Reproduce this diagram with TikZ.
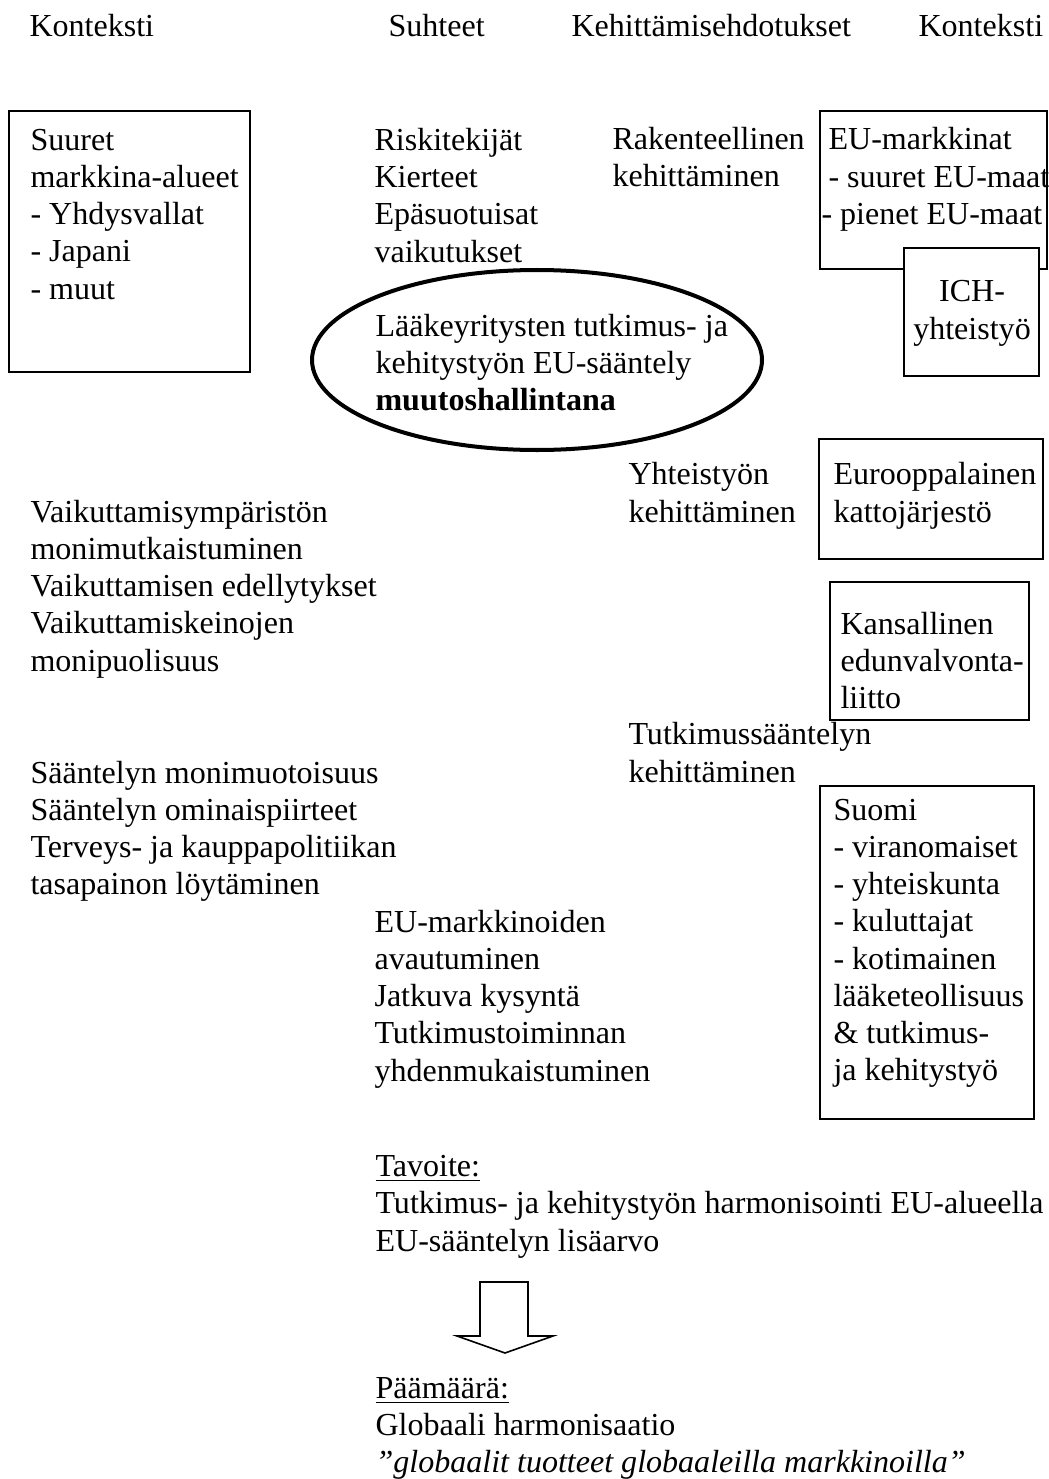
\documentclass[tikz,border=0pt]{standalone}
\usepackage{fontspec}
\setmainfont{Liberation Serif}
\usetikzlibrary{shapes.geometric}
\newdimen\px
\px=0.3745pt

\begin{document}
\begin{tikzpicture}[x=\px, y=-\px]
	\tikzset{
		txt/.style={anchor=base west, align=left, inner sep=0pt,
			font=\fontsize{12pt}{13.95pt}\selectfont},
		box/.style={draw=black, line width=0.7pt, fill=white, inner sep=0pt,
			anchor=north west},
		oval/.style={ellipse, draw=black, line width=1.5pt, inner sep=0pt}
	}
	\useasboundingbox (0,0) rectangle (1048,1479);
	
	% otsikot
	\node[txt] (h1) at (29,37) {Konteksti};
	\node[txt] (h2) at (388,37) {Suhteet};
	\node[txt] (h3) at (571,37) {Kehittämisehdotukset};
	\node[txt] (h4) at (918,37) {Konteksti};
	
	% laatikot
	\node[box, minimum width=241\px, minimum height=261\px] (bworld) at (8,110) {};
	\node[box, minimum width=227\px, minimum height=158\px] (beu) at (819,110) {};
	\node[box, minimum width=135\px, minimum height=128\px] (bich) at (903,247) {};
	\node[box, minimum width=224\px, minimum height=120\px] (beuro) at (818,438) {};
	\node[box, minimum width=199\px, minimum height=138\px] (bnat) at (829,581) {};
	\node[box, minimum width=214\px, minimum height=333\px] (bfin) at (819,785) {};
	\node[oval, minimum width=450\px, minimum height=180\px] (core) at (537,360) {};
	
	% tekstit (kiinnitys viimeisen rivin perusviivaan)
	\node[txt] (world) at (30,299) {Suuret\\markkina-alueet\\- Yhdysvallat\\- Japani\\- muut};
	\node[txt] (risk) at (374,262) {Riskitekijät\\Kierteet\\Epäsuotuisat\\vaikutukset};
	\node[txt] (struct) at (612,187) {Rakenteellinen\\kehittäminen};
	\node[txt] (eu) at (828,224.5) {EU-markkinat\\- suuret EU-maat\\\hspace*{-7\px}- pienet EU-maat};
	\node[txt, anchor=base, align=center] (ich) at (972,339) {ICH-\\yhteistyö};
	\node[txt] (coretxt) at (375,410.5) {Lääkeyritysten tutkimus- ja\\kehitystyön EU-sääntely\\\textbf{muutoshallintana}};
	\node[txt] (coop) at (628,522) {Yhteistyön\\kehittäminen};
	\node[txt] (euro) at (833,522) {Eurooppalainen\\kattojärjestö};
	\node[txt] (influence) at (30,671) {Vaikuttamisympäristön\\monimutkaistuminen\\Vaikuttamisen edellytykset\\Vaikuttamiskeinojen\\monipuolisuus};
	\node[txt] (nat) at (840,708.5) {Kansallinen\\edunvalvonta-\\liitto};
	\node[txt] (research) at (628,782) {Tutkimussääntelyn\\kehittäminen};
	\node[txt] (reg) at (30,894.75) {Sääntelyn monimuotoisuus\\Sääntelyn ominaispiirteet\\Terveys- ja kauppapolitiikan\\tasapainon löytäminen};
	\node[txt] (fin) at (833,1080.75) {Suomi\\- viranomaiset\\- yhteiskunta\\- kuluttajat\\- kotimainen\\lääketeollisuus\\\& tutkimus-\\ja kehitystyö};
	\node[txt] (market) at (374,1081) {EU-markkinoiden\\avautuminen\\Jatkuva kysyntä\\Tutkimustoiminnan\\yhdenmukaistuminen};
	\node[txt] (goal) at (375,1251) {\underline{Tavoite:}\\Tutkimus- ja kehitystyön harmonisointi EU-alueella\\EU-sääntelyn lisäarvo};
	\node[txt] (aim) at (375,1472.5) {\underline{Päämäärä:}\\Globaali harmonisaatio\\\textit{”globaalit tuotteet globaaleilla markkinoilla”}};
	
	% nuoli
	\draw[line width=0.6pt] (480,1282) -- (528,1282) -- (528,1336) -- (553,1336)
		-- (505,1353) -- (457,1336) -- (480,1336) -- cycle;
\end{tikzpicture}
\end{document}
